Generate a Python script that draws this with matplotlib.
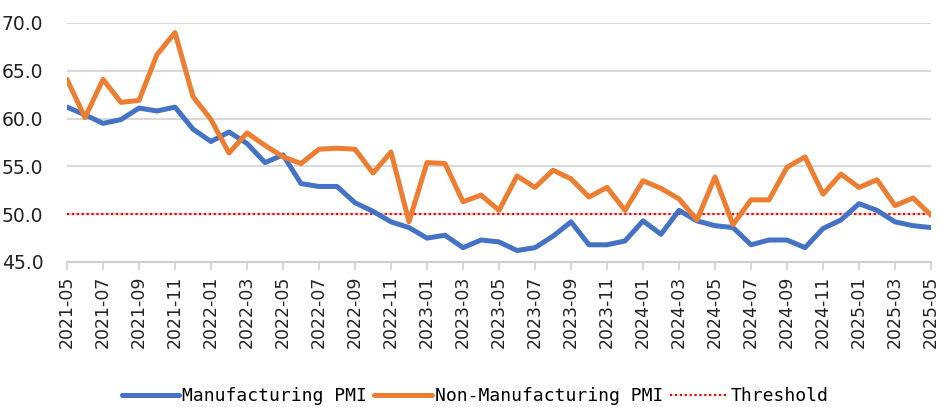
import matplotlib
matplotlib.use("Agg")
import matplotlib.pyplot as plt
import numpy as np
import pandas as pd

months = pd.period_range("2021-05", "2025-05", freq="M").strftime("%Y-%m").tolist()

manufacturing = [61.2, 60.4, 59.5, 59.9, 61.1, 60.8, 61.2, 58.9, 57.6, 58.6,
                 57.4, 55.4, 56.2, 53.2, 52.9, 52.9, 51.2, 50.3, 49.2, 48.6,
                 47.5, 47.8, 46.5, 47.3, 47.1, 46.2, 46.5, 47.7, 49.2, 46.8,
                 46.8, 47.2, 49.3, 47.9, 50.4, 49.3, 48.8, 48.6, 46.8, 47.3,
                 47.3, 46.5, 48.5, 49.4, 51.1, 50.4, 49.2, 48.8, 48.6]

non_manufacturing = [64.1, 60.1, 64.1, 61.7, 61.9, 66.7, 69.0, 62.3, 59.9, 56.4,
                     58.5, 57.2, 56.0, 55.3, 56.8, 56.9, 56.8, 54.3, 56.5, 49.2,
                     55.4, 55.3, 51.3, 52.0, 50.4, 54.0, 52.8, 54.6, 53.7, 51.8,
                     52.8, 50.4, 53.5, 52.7, 51.6, 49.4, 53.9, 48.9, 51.5, 51.5,
                     54.9, 56.0, 52.1, 54.2, 52.8, 53.6, 50.9, 51.7, 49.9]

threshold_value = 50.0
y_ticks = [45.0, 50.0, 55.0, 60.0, 65.0, 70.0]

fig = plt.figure(figsize=(9.41, 4.07), dpi=100)
ax = fig.add_axes([67/941, 1-262/407, (931-67)/941, (262-23)/407])

x = np.arange(len(months))
l1, = ax.plot(x, manufacturing, color="#4472C4", lw=3.6, solid_capstyle="round",
              solid_joinstyle="round", label="Manufacturing PMI", zorder=3)
l2, = ax.plot(x, non_manufacturing, color="#ED7D31", lw=3.6, solid_capstyle="round",
              solid_joinstyle="round", label="Non-Manufacturing PMI", zorder=3)
l3, = ax.plot(x, [threshold_value]*len(x), color="#FF0000", lw=1.6, ls=(0, (1, 1.2)),
              label="Threshold", zorder=2)

ax.set_xlim(0, len(x)-1)
ax.set_ylim(45, 70)
ax.set_yticks(y_ticks)
ax.set_yticklabels([f"{v:.1f}" for v in y_ticks], fontsize=13.5, color="#222222")
ax.yaxis.grid(True, color="#d9d9d9", lw=1.5)
ax.set_axisbelow(True)

ax.set_xticks(x[::2])
ax.set_xticklabels(months[::2], rotation=90, fontsize=12.5, color="#222222")

for s in ["left", "right", "top"]:
    ax.spines[s].set_visible(False)
ax.spines["bottom"].set_color("#d0d0d0")
ax.spines["bottom"].set_linewidth(1.5)
ax.tick_params(axis="y", length=0, pad=17)
ax.tick_params(axis="x", length=6, width=1.2, color="#d0d0d0", pad=4)

fig.legend(handles=[l1, l2, l3], loc="center", bbox_to_anchor=(0.505, 1-396/407),
           ncol=3, frameon=False, handlelength=3.2, handletextpad=0.15,
           columnspacing=0.4, prop={"family": "DejaVu Sans Mono", "size": 13})

fig.savefig("out.png", dpi=100)
